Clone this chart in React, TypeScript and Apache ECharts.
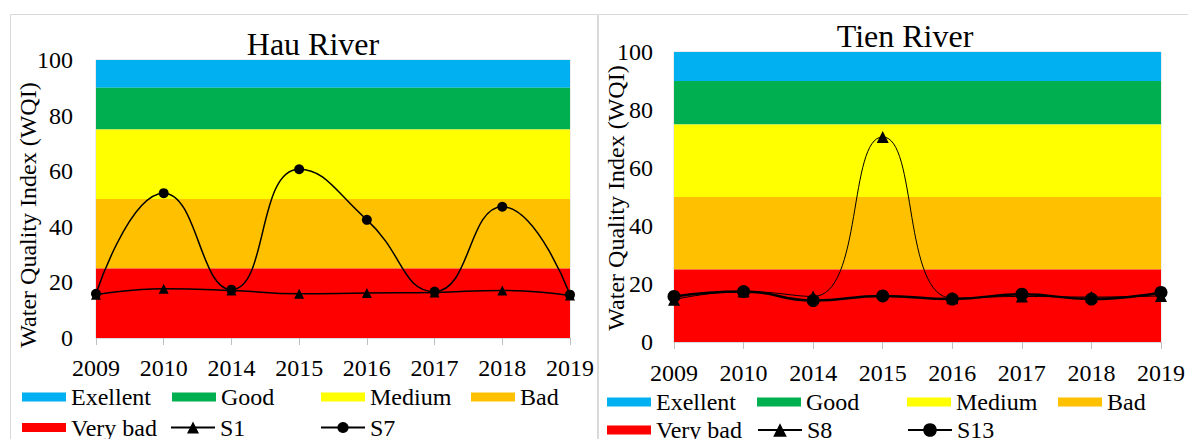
import React, { useEffect, useRef } from "react";
import * as echarts from "echarts";

const years = ["2009", "2010", "2014", "2015", "2016", "2017", "2018", "2019"];

const bandNames = ["Exellent", "Good", "Medium", "Bad", "Very bad"];
const bandColors = ["#00B0F0", "#00B050", "#FFFF00", "#FFC000", "#FF0000"];
const bandLower = [90, 75, 50, 25, 0];
const bandUpper = [100, 90, 75, 50, 25];

const hauS1 = [15.6, 17.7, 17.1, 15.9, 16.2, 16.4, 17.1, 15.3];
const hauS7 = [15.9, 52.1, 17.4, 60.7, 42.5, 16.7, 47.2, 15.6];
const tienS8 = [14.6, 17.4, 15.7, 70.7, 15.1, 15.7, 15.5, 15.9];
const tienS13 = [15.7, 17.4, 14.3, 15.9, 14.8, 16.5, 14.8, 17.1];

const FONT = "'Liberation Serif', 'Times New Roman', serif";

type PanelCfg = {
  title: string;
  titleX: number;
  titleY: number;
  nameX: number;
  nameY: number;
  grid: { left: number; top: number; width: number; height: number };
  yMargin: number;
  xMargin: number;
  border: { x: number; y: number; width: number; height: number };
  triName: string;
  triData: number[];
  triSize: number;
  triWidth: number;
  triLegendH: number;
  cirName: string;
  cirData: number[];
  cirSize: number;
  cirWidth: number;
  cirLegendH: number;
  cols: number[];
  cols2: number[];
  rows: number[];
};

function buildOption(p: PanelCfg) {
  const bandSeries = bandNames.map((n, i) => ({
    name: n,
    type: "line",
    data: [],
    z: 1,
    silent: true,
    symbol: "none",
    itemStyle: { color: bandColors[i] },
    lineStyle: { color: bandColors[i] },
    markArea: {
      silent: true,
      itemStyle: { color: bandColors[i], opacity: 1, borderWidth: 0 },
      data: [[{ yAxis: bandLower[i] }, { yAxis: bandUpper[i] }]],
    },
  }));
  const textStyle = { fontFamily: FONT, fontSize: 24, color: "#000" };
  const legendItem = (name: string, left: number, top: number, rect: boolean, h: number) => ({
    left,
    top,
    padding: 0,
    itemWidth: 44,
    itemHeight: h,
    selectedMode: false,
    textStyle,
    data: [rect ? { name, icon: "rect" } : { name }],
  });
  const legends = [
    legendItem(bandNames[0], p.cols[0], p.rows[0], true, 9),
    legendItem(bandNames[1], p.cols[1], p.rows[0], true, 9),
    legendItem(bandNames[2], p.cols[2], p.rows[0], true, 9),
    legendItem(bandNames[3], p.cols[3], p.rows[0], true, 9),
    legendItem(bandNames[4], p.cols[0], p.rows[1], true, 9),
    legendItem(p.triName, p.cols2[1], p.rows[1], false, p.triLegendH),
    legendItem(p.cirName, p.cols2[2], p.rows[1], false, p.cirLegendH),
  ];
  return {
    animation: false,
    backgroundColor: "#fff",
    textStyle: { fontFamily: FONT },
    grid: { ...p.grid, show: true, borderColor: "#d9d9d9", borderWidth: 1, backgroundColor: "transparent" },
    legend: legends,
    xAxis: {
      type: "category",
      data: years,
      boundaryGap: false,
      axisLine: { show: true, lineStyle: { color: "#d9d9d9" } },
      axisTick: { show: true, length: 7, lineStyle: { color: "#bfbfbf" } },
      axisLabel: { ...textStyle, margin: p.xMargin },
      splitLine: { show: false },
    },
    yAxis: {
      type: "value",
      min: 0,
      max: 100,
      interval: 20,
      axisLine: { show: false },
      axisTick: { show: false },
      splitLine: { show: false },
      axisLabel: { ...textStyle, margin: p.yMargin },
    },
    graphic: [
      {
        type: "rect",
        shape: p.border,
        style: { fill: "none", stroke: "#d9d9d9", lineWidth: 1 },
        silent: true,
      },
      {
        type: "text",
        x: p.titleX,
        y: p.titleY,
        style: { text: p.title, fontFamily: FONT, fontSize: 32, fill: "#000", align: "center", verticalAlign: "middle" },
      },
      {
        type: "text",
        x: p.nameX,
        y: p.nameY,
        rotation: Math.PI / 2,
        style: {
          text: "Water Quality Index (WQI)",
          fontFamily: FONT,
          fontSize: 24,
          fill: "#000",
          align: "center",
          verticalAlign: "middle",
        },
      },
    ],
    series: [
      ...bandSeries,
      {
        name: p.triName,
        type: "line",
        data: p.triData,
        smooth: 0.5,
        z: 4,
        symbol: "triangle",
        symbolSize: p.triSize,
        itemStyle: { color: "#000" },
        lineStyle: { color: "#000", width: p.triWidth },
      },
      {
        name: p.cirName,
        type: "line",
        data: p.cirData,
        smooth: 0.5,
        z: 3,
        symbol: "circle",
        symbolSize: p.cirSize,
        itemStyle: { color: "#000" },
        lineStyle: { color: "#000", width: p.cirWidth },
      },
    ],
  };
}

const hauCfg: PanelCfg = {
  title: "Hau River",
  titleX: 313,
  titleY: 44,
  nameX: 28,
  nameY: 215,
  grid: { left: 96, top: 60, width: 474, height: 278 },
  yMargin: 23,
  xMargin: 18,
  border: { x: 10.5, y: 14.5, width: 587, height: 500 },
  triName: "S1",
  triData: hauS1,
  triSize: 10,
  triWidth: 1.5,
  triLegendH: 15,
  cirName: "S7",
  cirData: hauS7,
  cirSize: 10,
  cirWidth: 1.5,
  cirLegendH: 14,
  cols: [22, 172, 321, 471],
  cols2: [22, 170, 320],
  rows: [385, 415.5],
};

const tienCfg: PanelCfg = {
  title: "Tien River",
  titleX: 307,
  titleY: 36,
  nameX: 18,
  nameY: 198,
  grid: { left: 76, top: 52, width: 487, height: 290 },
  yMargin: 21,
  xMargin: 19,
  border: { x: 0.5, y: 14.5, width: 700, height: 500 },
  triName: "S8",
  triData: tienS8,
  triSize: 12,
  triWidth: 1,
  triLegendH: 17,
  cirName: "S13",
  cirData: tienS13,
  cirSize: 13,
  cirWidth: 2.5,
  cirLegendH: 17,
  cols: [9, 159, 309, 460],
  cols2: [9, 159, 309],
  rows: [390, 418],
};

function Panel({ cfg, left, width }: { cfg: PanelCfg; left: number; width: number }) {
  const ref = useRef<HTMLDivElement>(null);
  useEffect(() => {
    if (!ref.current) return;
    const chart = echarts.init(ref.current, undefined, { renderer: "svg" });
    chart.setOption(buildOption(cfg) as any);
    return () => chart.dispose();
  }, [cfg]);
  return <div ref={ref} style={{ position: "absolute", left, top: 0, width, height: 439 }} />;
}

export default function App() {
  return (
    <div style={{ position: "absolute", left: 0, top: 0, width: 1188, height: 439, background: "#fff", overflow: "hidden" }}>
      <Panel cfg={hauCfg} left={0} width={598} />
      <Panel cfg={tienCfg} left={598} width={590} />
    </div>
  );
}
